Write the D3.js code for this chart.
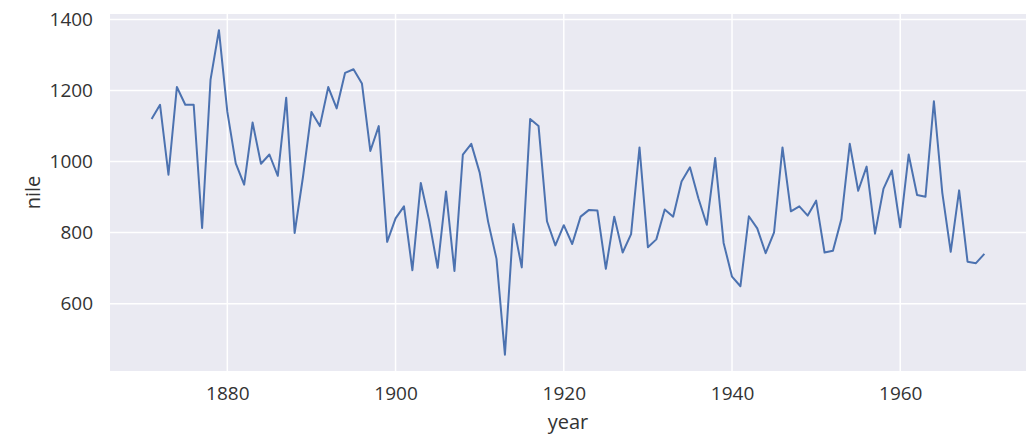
<!DOCTYPE html>
<html>
<head>
<meta charset="utf-8">
<script src="https://cdn.jsdelivr.net/npm/d3@7"></script>
<style>
  body { margin: 0; background: #fff; }
  svg text { font-family: "Open Sans", "DejaVu Sans", sans-serif; fill: #333; }
</style>
</head>
<body>
<svg id="chart" width="1036" height="439"></svg>
<script>
// Nile river annual flow, 1871-1970
const firstYear = 1871;
const nile = [
  1120, 1160, 963, 1210, 1160, 1160, 813, 1230, 1370, 1140,
  995, 935, 1110, 994, 1020, 960, 1180, 799, 958, 1140,
  1100, 1210, 1150, 1250, 1260, 1220, 1030, 1100, 774, 840,
  874, 694, 940, 833, 701, 916, 692, 1020, 1050, 969,
  831, 726, 456, 824, 702, 1120, 1100, 832, 764, 821,
  768, 845, 864, 862, 698, 845, 744, 796, 1040, 759,
  781, 865, 845, 944, 984, 897, 822, 1010, 771, 676,
  649, 846, 812, 742, 801, 1040, 860, 874, 848, 890,
  744, 749, 838, 1050, 918, 986, 797, 923, 975, 815,
  1020, 906, 901, 1170, 912, 746, 919, 718, 714, 740
];
const years = nile.map((_, i) => firstYear + i);
const xTicks = [1880, 1900, 1920, 1940, 1960];
const yTicks = [600, 800, 1000, 1200, 1400];

const margin = { top: 14, right: 10, bottom: 68, left: 110 };
const width = 1036, height = 439;
const innerW = width - margin.left - margin.right;
const innerH = height - margin.top - margin.bottom;

const svg = d3.select('#chart');
const g = svg.append('g').attr('transform', `translate(${margin.left},${margin.top})`);

// matplotlib-style 5% padding
const xExt = d3.extent(years), yExt = d3.extent(nile);
const xPad = (xExt[1] - xExt[0]) * 0.05, yPad = (yExt[1] - yExt[0]) * 0.05;

const x = d3.scaleLinear().domain([xExt[0] - xPad, xExt[1] + xPad]).range([0, innerW]);
const y = d3.scaleLinear().domain([yExt[0] - yPad, yExt[1] + yPad]).range([innerH, 0]);

g.append('rect')
  .attr('width', innerW)
  .attr('height', innerH)
  .attr('fill', '#eaeaf2');

// grid
g.selectAll('.vgrid').data(xTicks).enter().append('line')
  .attr('x1', d => x(d)).attr('x2', d => x(d))
  .attr('y1', 0).attr('y2', innerH)
  .attr('stroke', '#fff').attr('stroke-width', 1.5);

g.selectAll('.hgrid').data(yTicks).enter().append('line')
  .attr('x1', 0).attr('x2', innerW)
  .attr('y1', d => y(d)).attr('y2', d => y(d))
  .attr('stroke', '#fff').attr('stroke-width', 1.5);

// axes (labels only, seaborn darkgrid style)
const xAxis = g.append('g')
  .attr('transform', `translate(0,${innerH})`)
  .call(d3.axisBottom(x).tickValues(xTicks).tickFormat(d3.format('d')).tickSize(0).tickPadding(16));
const yAxis = g.append('g')
  .call(d3.axisLeft(y).tickValues(yTicks).tickFormat(d3.format('d')).tickSize(0).tickPadding(17));
[xAxis, yAxis].forEach(a => {
  a.select('.domain').remove();
  a.selectAll('text').style('font-size', '19px').attr('fill', '#333');
});

// line
const line = d3.line()
  .x((d, i) => x(years[i]))
  .y(d => y(d));

g.append('path')
  .datum(nile)
  .attr('fill', 'none')
  .attr('stroke', '#4c72b0')
  .attr('stroke-width', 2)
  .attr('stroke-linejoin', 'round')
  .attr('d', line);

// axis titles
svg.append('text')
  .attr('x', margin.left + innerW / 2)
  .attr('y', 429)
  .attr('text-anchor', 'middle')
  .style('font-size', '20px')
  .text('year');

svg.append('text')
  .attr('transform', `translate(40,${margin.top + innerH / 2}) rotate(-90)`)
  .attr('text-anchor', 'middle')
  .style('font-size', '20px')
  .text('nile');
</script>
</body>
</html>
